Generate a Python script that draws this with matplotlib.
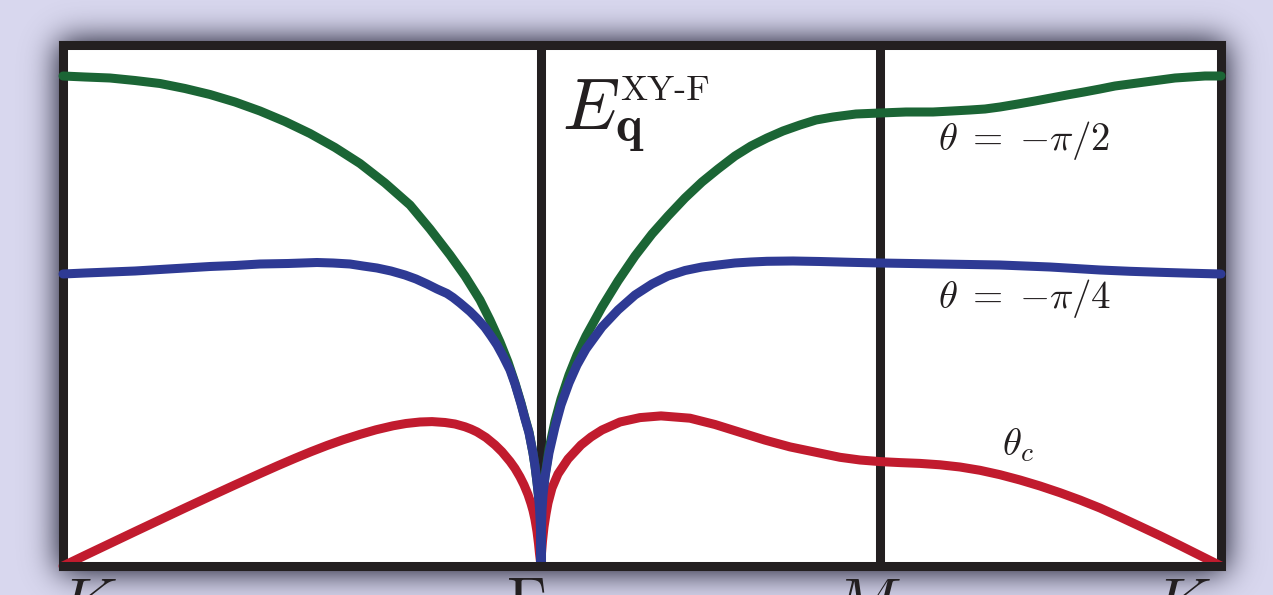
import matplotlib
matplotlib.use("Agg")
import matplotlib.pyplot as plt
import numpy as np

plt.rcParams['mathtext.fontset'] = 'cm'

# Recorrido K - Gamma - M - K (k en unidades arbitrarias a lo largo del camino)
k_puntos = [0.0, 4.78, 8.17, 11.58]
etiquetas_k = [r'$K$', r'$\Gamma$', r'$M$', r'$K$']

# Rama theta = -pi/2 (verde)
k_verde = [0.00, 0.22, 0.47, 0.72, 0.97, 1.22, 1.47, 1.72, 1.97, 2.22, 2.47, 2.72,
           2.97, 3.22, 3.47, 3.67, 3.87, 4.02, 4.17, 4.27, 4.37, 4.45, 4.52, 4.58,
           4.62, 4.66, 4.70, 4.72, 4.74, 4.755, 4.765, 4.772, 4.777, 4.78,
           4.783, 4.79, 4.80, 4.82, 4.86, 4.92, 4.98, 5.06, 5.14, 5.23, 5.39, 5.55,
           5.72, 5.89, 6.05, 6.22, 6.39, 6.55, 6.72, 6.88, 7.04, 7.20, 7.37, 7.53,
           7.70, 7.93, 8.17,
           8.43, 8.70, 8.89, 9.07, 9.22, 9.37, 9.55, 9.72, 9.88, 10.04, 10.21, 10.37,
           10.52, 10.67, 10.82, 10.97, 11.12, 11.27, 11.42, 11.58]
E_verde = [4.90, 4.89, 4.88, 4.855, 4.825, 4.775, 4.715, 4.64, 4.55, 4.445, 4.325, 4.185,
           4.025, 3.83, 3.61, 3.37, 3.11, 2.90, 2.66, 2.46, 2.24, 2.04, 1.83, 1.63,
           1.48, 1.34, 1.13, 1.00, 0.84, 0.70, 0.58, 0.44, 0.29, 0.00,
           0.31, 0.56, 0.72, 0.90, 1.17, 1.45, 1.67, 1.91, 2.11, 2.30, 2.59, 2.85,
           3.10, 3.32, 3.50, 3.68, 3.84, 3.97, 4.10, 4.20, 4.28, 4.35, 4.41, 4.46,
           4.49, 4.52, 4.53,
           4.54, 4.54, 4.55, 4.56, 4.57, 4.59, 4.62, 4.65, 4.68, 4.71, 4.74, 4.77,
           4.80, 4.82, 4.84, 4.86, 4.88, 4.89, 4.90, 4.90]

# Rama theta = -pi/4 (azul)
k_azul = [0.00, 0.22, 0.47, 0.72, 0.97, 1.22, 1.47, 1.72, 1.97, 2.25, 2.54, 2.70,
          2.87, 3.00, 3.14, 3.28, 3.42, 3.53, 3.64, 3.74, 3.84, 3.90, 3.97, 4.07,
          4.14, 4.22, 4.28, 4.34, 4.40, 4.47, 4.52, 4.58, 4.62, 4.66, 4.70, 4.72,
          4.74, 4.755, 4.765, 4.772, 4.777, 4.78,
          4.783, 4.79, 4.80, 4.82, 4.86, 4.92, 4.98, 5.06, 5.14, 5.23, 5.39, 5.55,
          5.72, 5.89, 6.05, 6.22, 6.39, 6.55, 6.72, 6.88, 7.04, 7.30, 7.57, 7.87, 8.17,
          8.47, 8.77, 9.07, 9.37, 9.62, 9.87, 10.12, 10.37, 10.67, 10.97, 11.27, 11.58]
E_azul = [2.92, 2.93, 2.94, 2.95, 2.965, 2.98, 2.995, 3.005, 3.02, 3.025, 3.035, 3.03,
          3.02, 3.00, 2.98, 2.95, 2.91, 2.87, 2.82, 2.77, 2.725, 2.685, 2.63, 2.545,
          2.475, 2.385, 2.30, 2.21, 2.10, 1.96, 1.82, 1.62, 1.47, 1.33, 1.13, 1.00,
          0.84, 0.70, 0.58, 0.44, 0.29, 0.00,
          0.31, 0.56, 0.71, 0.89, 1.13, 1.39, 1.61, 1.83, 2.01, 2.17, 2.39, 2.56,
          2.71, 2.82, 2.90, 2.955, 2.99, 3.01, 3.03, 3.04, 3.047, 3.05, 3.045, 3.037, 3.03,
          3.025, 3.02, 3.015, 3.01, 3.00, 2.99, 2.975, 2.96, 2.947, 2.937, 2.928, 2.92]

# Rama theta_c (rojo)
k_rojo = [0.00, 0.22, 0.47, 0.72, 0.97, 1.22, 1.47, 1.72, 1.97, 2.15, 2.32, 2.48,
          2.64, 2.80, 2.97, 3.13, 3.30, 3.43, 3.57, 3.69, 3.82, 3.92, 4.02, 4.08,
          4.14, 4.23, 4.32, 4.39, 4.47, 4.52, 4.57, 4.61, 4.65, 4.68, 4.70, 4.72,
          4.74, 4.755, 4.765, 4.773, 4.78,
          4.785, 4.795, 4.81, 4.83, 4.85, 4.89, 4.95, 5.05, 5.18, 5.28, 5.39, 5.57,
          5.77, 5.98, 6.27, 6.52, 6.77, 7.02, 7.27, 7.52, 7.77, 7.97, 8.17,
          8.37, 8.57, 8.77, 8.97, 9.17, 9.37, 9.57, 9.77, 9.97, 10.17, 10.37, 10.57,
          10.77, 10.97, 11.17, 11.37, 11.58]
E_rojo = [0.00, 0.106, 0.225, 0.344, 0.462, 0.58, 0.696, 0.811, 0.924, 1.004, 1.077, 1.143,
          1.205, 1.262, 1.316, 1.362, 1.402, 1.425, 1.44, 1.444, 1.435, 1.42, 1.392, 1.369,
          1.341, 1.285, 1.211, 1.142, 1.046, 0.976, 0.891, 0.811, 0.715, 0.625, 0.555, 0.465,
          0.345, 0.225, 0.125, 0.06, 0.00,
          0.13, 0.25, 0.39, 0.52, 0.63, 0.78, 0.92, 1.07, 1.21, 1.29, 1.36, 1.44,
          1.484, 1.501, 1.478, 1.415, 1.337, 1.259, 1.191, 1.139, 1.087, 1.06, 1.044,
          1.034, 1.026, 1.012, 0.99, 0.957, 0.913, 0.86, 0.80, 0.733, 0.66, 0.58, 0.49,
          0.397, 0.303, 0.205, 0.105, 0.00]

verde = '#1b6535'
azul = '#2e3a94'
rojo = '#c11b2e'
negro = '#231f20'
lavanda = '#d8d7ee'

ancho, alto = 1273, 595
fig = plt.figure(figsize=(ancho / 100, alto / 100), dpi=100, facecolor=lavanda)

# Sombra difusa alrededor del recuadro
def escalon_suave(n, a, b, sigma=16):
    idx = np.arange(n)
    ind = ((idx >= a) & (idx <= b)).astype(float)
    t = np.arange(-4 * sigma, 4 * sigma + 1)
    g = np.exp(-0.5 * (t / sigma) ** 2)
    g /= g.sum()
    return np.convolve(ind, g, mode='same')

sombra = np.outer(escalon_suave(alto, 41, 571), escalon_suave(ancho, 59, 1225))
img = np.zeros((alto, ancho, 4))
img[..., 0] = 0.22
img[..., 1] = 0.22
img[..., 2] = 0.30
img[..., 3] = np.clip(1.3 * sombra, 0, 1)
fondo = fig.add_axes([0, 0, 1, 1], zorder=-1)
fondo.imshow(img, aspect='auto', interpolation='bilinear')
fondo.set_axis_off()

ax = fig.add_axes([63 / ancho, (alto - 566) / alto, (1221 - 63) / ancho, (566 - 45) / alto])
ax.set_facecolor('white')

lw = 6.5
for x in k_puntos[1:3]:
    ax.axvline(x, color=negro, lw=lw, zorder=1)

estilo = dict(lw=lw, solid_capstyle='round', solid_joinstyle='round', clip_on=False)
ax.plot(k_verde, E_verde, color=verde, zorder=3, **estilo)
ax.plot(k_rojo, E_rojo, color=rojo, zorder=4, **estilo)
ax.plot(k_azul, E_azul, color=azul, zorder=5, **estilo)

ax.set_xlim(k_puntos[0], k_puntos[-1])
ax.set_ylim(0, 5.21)
ax.set_xticks([])
ax.set_yticks([])
for lado, sp in ax.spines.items():
    sp.set_linewidth(lw)
    sp.set_color(negro)
ax.spines['bottom'].set_zorder(6)

# Textos dentro del panel
ax.text(4.99, 4.36, r'$E_{\mathbf{q}}$', fontsize=52, va='baseline', ha='left', color=negro)
ax.text(5.57, 4.66, 'XY-F', fontsize=26, family='cmr10', va='baseline', ha='left', color=negro)
ax.text(8.75, 4.16, r'$\theta\;=\;{-}\pi/2$', fontsize=28, va='baseline', ha='left', color=negro)
ax.text(8.75, 2.58, r'$\theta\;=\;{-}\pi/4$', fontsize=28, va='baseline', ha='left', color=negro)
ax.text(9.39, 1.11, r'$\theta_c$', fontsize=28, va='baseline', ha='left', color=negro)

# Etiquetas de los puntos de alta simetria
desplaz = [0.24, -0.15, -0.14, -0.40]
for x, et, d in zip(k_puntos, etiquetas_k, desplaz):
    ax.text(x + d, -0.07, et, fontsize=46, ha='center', va='top', color=negro, clip_on=False)

fig.savefig('out.png', dpi=100, facecolor=lavanda)
